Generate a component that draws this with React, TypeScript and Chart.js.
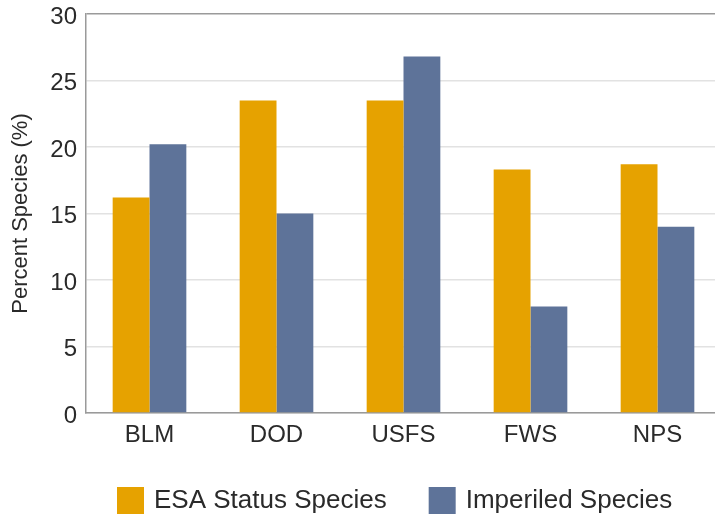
import React, { useEffect, useRef } from "react";
import { Chart, registerables } from "chart.js";

Chart.register(...registerables);

const categories = ["BLM", "DOD", "USFS", "FWS", "NPS"];
const esaValues = [16.2, 23.5, 23.5, 18.3, 18.7];
const imperiledValues = [20.2, 15.0, 26.8, 8.0, 14.0];
const seriesLabels = ["ESA Status Species", "Imperiled Species"];
const seriesColors = ["#E6A200", "#5E7399"];
const yTicks = { min: 0, max: 30, step: 5 };

const FONT = "'Liberation Sans', Arial, Helvetica, sans-serif";

const legendPlugin = {
  id: "customLegend",
  afterDraw(chart: any) {
    const ctx = chart.ctx;
    const area = chart.chartArea;
    const box = 27;
    const gapText = 10;
    const gapItem = 42;
    let x = area.left + 31;
    const cy = 500.5;
    ctx.save();
    ctx.font = `26px ${FONT}`;
    ctx.textBaseline = "middle";
    ctx.textAlign = "left";
    chart.data.datasets.forEach((ds: any) => {
      ctx.fillStyle = ds.backgroundColor;
      ctx.fillRect(x, cy - box / 2, box, box);
      x += box + gapText;
      ctx.fillStyle = "#2a2a2a";
      ctx.fillText(ds.label, x, cy);
      x += ctx.measureText(ds.label).width + gapItem;
    });
    ctx.restore();
  },
};

export default function App() {
  const ref = useRef<HTMLCanvasElement | null>(null);
  useEffect(() => {
    document.body.style.overflow = "hidden";
    if (!ref.current) return;
    const chart = new Chart(ref.current, {
      type: "bar",
      data: {
        labels: categories,
        datasets: [
          {
            label: seriesLabels[0],
            data: esaValues,
            backgroundColor: seriesColors[0],
            barPercentage: 1,
            categoryPercentage: 0.58,
          },
          {
            label: seriesLabels[1],
            data: imperiledValues,
            backgroundColor: seriesColors[1],
            barPercentage: 1,
            categoryPercentage: 0.58,
          },
        ],
      },
      options: {
        animation: false,
        responsive: false,
        maintainAspectRatio: false,
        layout: { padding: { top: 14, right: 4, bottom: 67, left: 0 } },
        plugins: {
          legend: { display: false },
          tooltip: { enabled: false },
        },
        scales: {
          x: {
            grid: { display: false, drawTicks: false },
            border: { display: true, color: "#9a9a9a", width: 1.5 },
            ticks: {
              color: "#2a2a2a",
              padding: 8,
              font: { family: FONT, size: 24 },
            },
            afterFit(scale: any) {
              scale.height = 37;
            },
          },
          y: {
            min: yTicks.min,
            max: yTicks.max,
            ticks: {
              stepSize: yTicks.step,
              color: "#2a2a2a",
              padding: 9,
              labelOffset: 3,
              font: { family: FONT, size: 24 },
            },
            grid: {
              drawTicks: false,
              lineWidth: 1.5,
              color: (c: any) =>
                c.tick && c.tick.value === yTicks.max ? "#9a9a9a" : "#e2e2e2",
            },
            border: { display: true, color: "#9a9a9a", width: 1.5 },
            title: {
              display: true,
              text: "Percent Species (%)",
              color: "#2a2a2a",
              padding: { top: 8, bottom: 0 },
              font: { family: FONT, size: 22 },
            },
            afterFit(scale: any) {
              scale.width = 86;
              scale.paddingTop = 0;
              scale.paddingBottom = 0;
            },
          },
        },
      },
      plugins: [legendPlugin],
    });
    return () => chart.destroy();
  }, []);
  return (
    <div style={{ position: "absolute", left: 0, top: 0, width: 725, height: 517 }}>
      <canvas ref={ref} width={725} height={517} style={{ display: "block" }} />
    </div>
  );
}
